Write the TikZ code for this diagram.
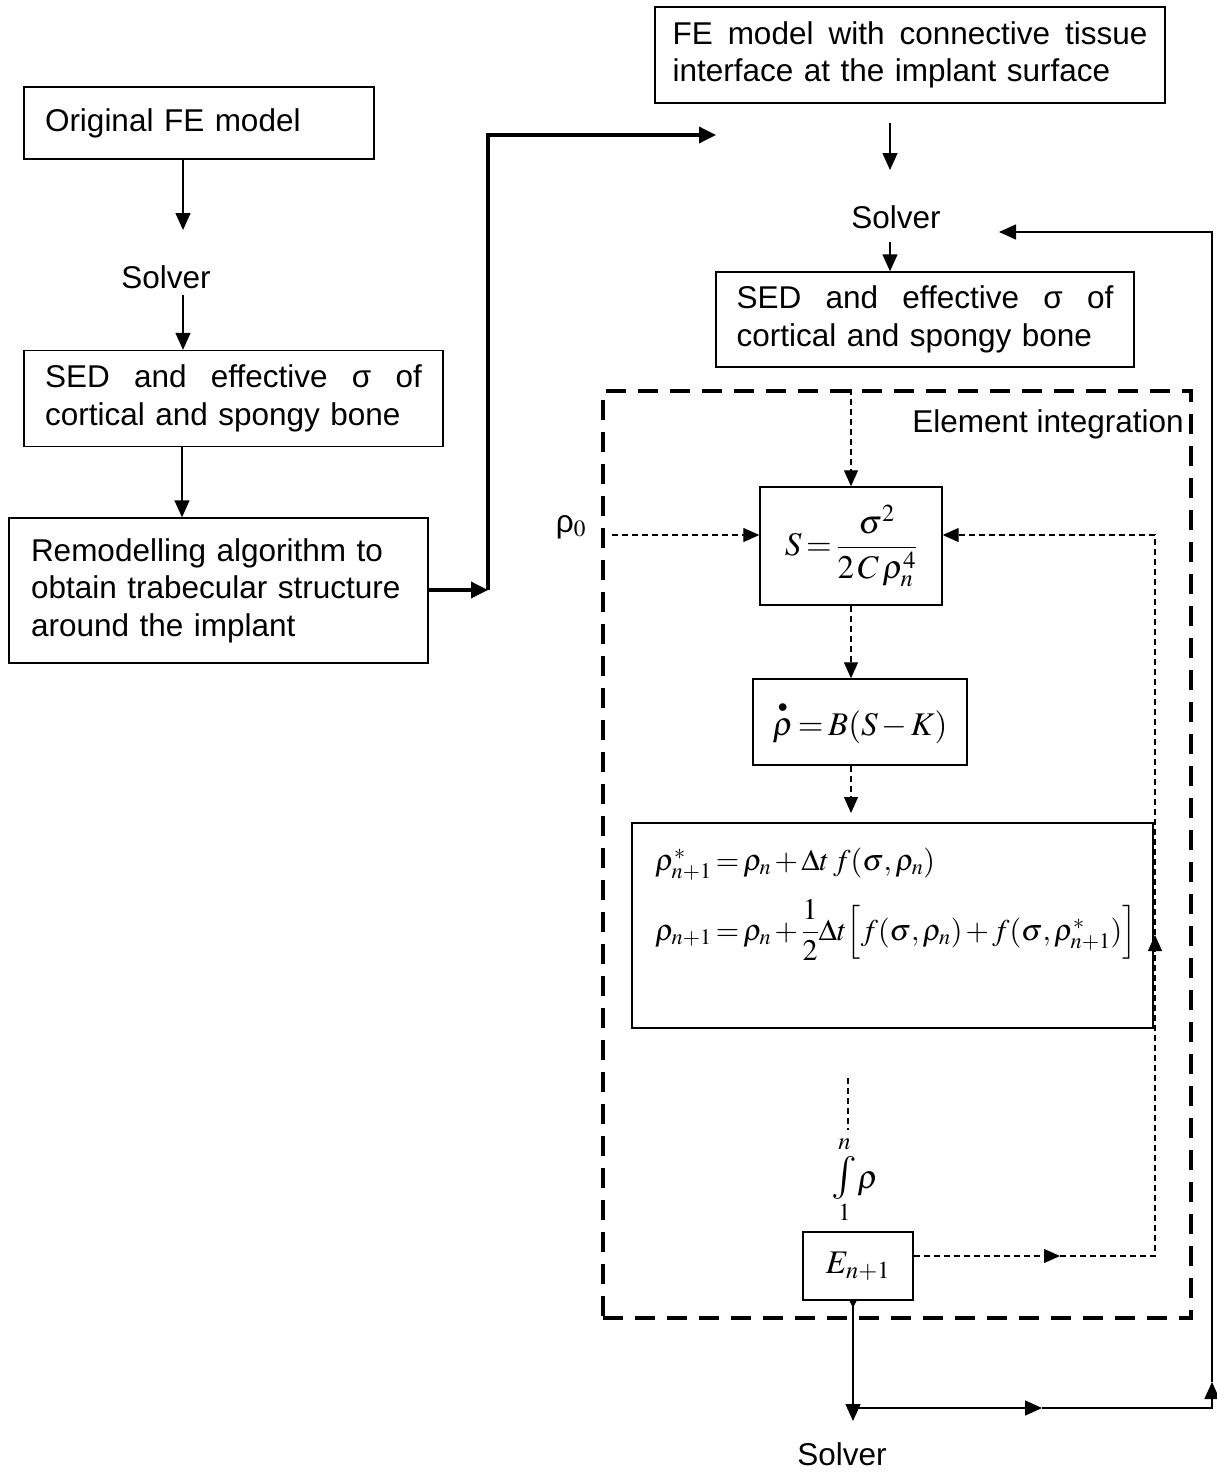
\documentclass[tikz,border=0pt]{standalone}
\usepackage{amsmath}
\usepackage{mathptmx}
\usepackage[no-math]{fontspec}
\setmainfont{Liberation Sans}
\usetikzlibrary{arrows.meta}
\thickmuskip=2.5mu
\medmuskip=2mu
\tikzset{
  box/.style={draw, line width=1.4pt, inner sep=0pt},
  txt/.style={inner sep=0pt, font=\fontsize{31.5}{37.5}\selectfont},
  mth/.style={inner sep=0pt, font=\fontsize{33}{40}\selectfont},
  eqs/.style={inner sep=0pt, font=\fontsize{30}{37}\selectfont},
  arr/.style={line width=1.4pt, -{Triangle[length=17pt,width=15pt]}},
  thickarr/.style={line width=3.5pt, -{Triangle[length=17pt,width=16pt]}},
  darr/.style={line width=1.2pt, dash pattern=on 6pt off 4pt, -{Triangle[length=16pt,width=14pt]}},
  dline/.style={line width=1.2pt, dash pattern=on 6pt off 4pt},
  frame/.style={draw, line width=3.5pt, dash pattern=on 20pt off 12pt, inner sep=0pt},
}
\begin{document}
\begin{tikzpicture}[x=1pt,y=-1pt]
\useasboundingbox (0,0) rectangle (1216,1472);

% left column
\node[box,txt,minimum width=350pt,minimum height=72pt,text width=308pt,align=left] (orig) at (199,123) {Original FE model};
\node[txt,anchor=base] (solverL) at (166,288) {Solver};
\node[box,txt,minimum width=419pt,minimum height=96pt,text width=377pt,align=left] (sedL) at (233.5,398.5)
  {SED\hfill and\hfill effective\hfill σ\hfill of\\cortical and spongy bone};
\node[box,txt,minimum width=419pt,minimum height=145pt,text width=375pt,align=left] (remod) at (218.5,590.5)
  {Remodelling algorithm to\\obtain trabecular structure\\around the implant};

% right column
\node[box,txt,minimum width=510pt,minimum height=96pt,text width=475pt,align=left] (fecon) at (910,55)
  {FE\hfill model\hfill with\hfill connective\hfill tissue\\interface at the implant surface};
\node[txt,anchor=base] (solverR) at (896,228) {Solver};
\node[box,txt,minimum width=418pt,minimum height=95pt,text width=377pt,align=left] (sedR) at (925,319.5)
  {SED\hfill and\hfill effective\hfill σ\hfill of\\cortical and spongy bone};

\node[frame,minimum width=588pt,minimum height=927pt] (frm) at (897,854.5) {};
\node[txt,anchor=base east] (elem) at (1184,432) {Element integration};
\node[box,mth,minimum width=182pt,minimum height=118pt] (Sbox) at (851,546)
  {$S=\dfrac{\sigma^{2}}{2\,C\,\rho_n^{4}}$};
\node[txt,anchor=base] (rho0) at (571,532) {ρ$_0$};
\node[box,mth,minimum width=214pt,minimum height=86pt] (rdot) at (860,722)
  {$\overset{\scriptscriptstyle\bullet}{\rho}=B(S-K)$};
\node[box,minimum width=521pt,minimum height=205pt] (fbox) at (892.5,925.5) {};
\node[eqs,anchor=base west] (eq1) at (655,870)
  {$\rho^{*}_{n+1}=\rho_n+\Delta t\; f(\sigma,\rho_n)$};
\node[eqs,anchor=base west] (eq2) at (655,940)
  {$\rho_{n+1}=\rho_n+\dfrac{1}{2}\Delta t\Bigl[f(\sigma,\rho_n)+f(\sigma,\rho^{*}_{n+1})\Bigr]$};
\node[mth] (integ) at (855,1180) {$\mathop{\scalebox{1.3}{$\int$}}\limits_{1}^{n}\!\rho$};
\node[box,mth,minimum width=110pt,minimum height=68pt] (ebox) at (858,1266) {$E_{n+1}$};
\node[txt,anchor=base] (solverB) at (842,1465) {Solver};

% left connectors
\coordinate (a1) at (183,230);
\draw[arr] (orig.south -| a1) -- (a1);
\coordinate (a2) at (183,295);
\draw[arr] (a2) -- (a2 |- sedL.north);
\coordinate (a3) at (182,447);
\draw[arr] (sedL.south -| a3) -- (a3 |- remod.north);

% thick connector
\coordinate (j1) at (488,590);
\coordinate (j2) at (488,135);
\coordinate (j3) at (716,135);
\draw[thickarr] (remod.east |- j1) -- (j1);
\draw[thickarr] (j1) -- (j2) -- (j3);

% right connectors
\coordinate (b1) at (890,123);
\coordinate (b2) at (890,170);
\draw[arr] (b1) -- (b2);
\coordinate (b3) at (890,242);
\draw[arr] (b3) -- (b3 |- sedR.north);

% dashed connectors
\draw[darr] (frm.north -| Sbox) -- (Sbox.north);
\coordinate (c0) at (612,535);
\draw[darr] (c0) -- (c0 -| Sbox.west);
\draw[darr] (Sbox.south) -- (Sbox.south |- rdot.north);
\coordinate (c1) at (851,813);
\draw[darr] (rdot.south -| c1) -- (c1);
\coordinate (c2) at (848,1078);
\coordinate (c3) at (848,1130);
\draw[dline] (c2) -- (c3);

\coordinate (d1) at (1155,1256);
\coordinate (d2) at (1155,535);
\coordinate (dm) at (1060,1256);
\coordinate (du) at (1155,935);
\draw[darr] (ebox.east |- d1) -- (dm);
\draw[darr] (dm) -- (d1) -- (du);
\draw[darr] (du) -- (d2) -- (d2 -| Sbox.east);

% solid feedback
\coordinate (e0) at (853,1421);
\coordinate (e1) at (853,1408);
\coordinate (em) at (1042,1408);
\coordinate (e2) at (1212,1408);
\coordinate (eu) at (1212,1382);
\coordinate (e3) at (1212,232);
\coordinate (e4) at (999,232);
\draw[line width=1.4pt,{Triangle[reversed,length=7pt,width=7pt]}-{Triangle[length=17pt,width=15pt]}] (ebox.south -| e0) -- (e0);
\draw[arr] (e1) -- (em);
\draw[arr] (em) -- (e2) -- (eu);
\draw[arr] (eu) -- (e3) -- (e4);
\end{tikzpicture}
\end{document}
